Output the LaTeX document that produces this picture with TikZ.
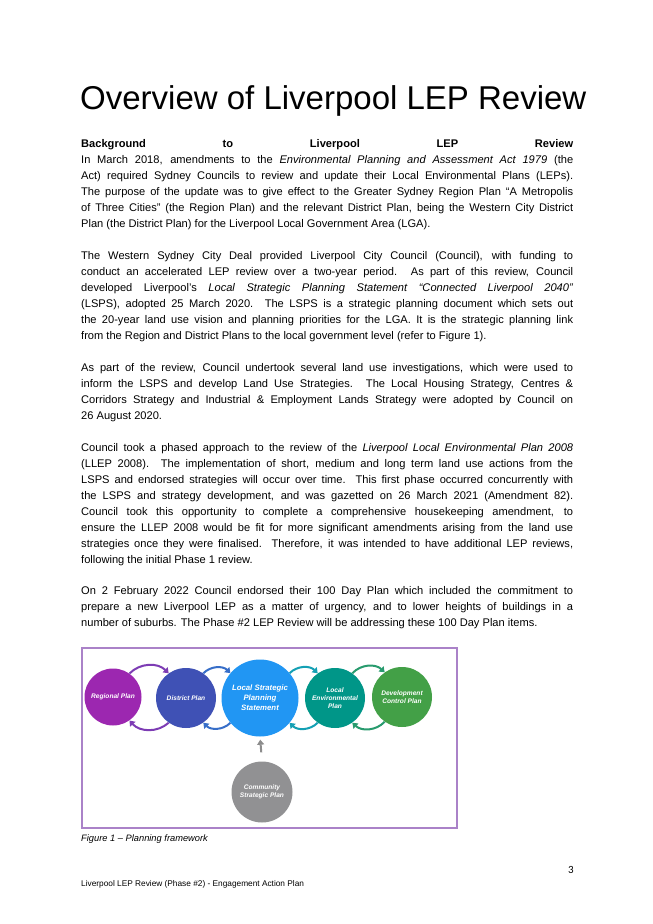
\documentclass[tikz,border=0pt]{standalone}
\usepackage{fontspec}
\setmainfont{Liberation Sans}
\newfontfamily\pgnum{Carlito}
\usetikzlibrary{arrows.meta}
\tikzset{
 para/.style={anchor=base west,inner sep=0pt,text width=492pt,align=justify,font=\fontsize{11.1}{16}\selectfont},
 plan/.style={circle,minimum size=#1,inner sep=0pt,text=white,align=center,font=\fontsize{6.6}{8}\selectfont\bfseries\itshape},
 flow/.style={line width=2pt,-{Triangle[length=5pt,width=7pt]}},
}
\begin{document}
\begin{tikzpicture}[x=1pt,y=-1pt]
\useasboundingbox (0,0) rectangle (653,924);
\fill[white] (0,0) rectangle (653,924);
\node[anchor=base west,inner sep=0pt,font=\fontsize{33}{36}\selectfont] (title) at (80,109) {Overview of Liverpool LEP Review};
\node[para] (p1) at (81,147) {\textbf{Background to Liverpool LEP Review}\linebreak
In March 2018, amendments to the \textit{Environmental Planning and Assessment Act 1979} (the\linebreak
Act) required Sydney Councils to review and update their Local Environmental Plans (LEPs).\linebreak
The purpose of the update was to give effect to the Greater Sydney Region Plan “A Metropolis\linebreak
of Three Cities” (the Region Plan) and the relevant District Plan, being the Western City District\linebreak
Plan (the District Plan) for the Liverpool Local Government Area (LGA).};
\node[para] (p2) at (81,259) {The Western Sydney City Deal provided Liverpool City Council (Council), with funding to\linebreak
conduct an accelerated LEP review over a two-year period. As part of this review, Council\linebreak
developed Liverpool’s \textit{Local Strategic Planning Statement “Connected Liverpool 2040”}\linebreak
(LSPS), adopted 25 March 2020. The LSPS is a strategic planning document which sets out\linebreak
the 20-year land use vision and planning priorities for the LGA. It is the strategic planning link\linebreak
from the Region and District Plans to the local government level (refer to Figure 1).};
\node[para] (p3) at (81,371) {As part of the review, Council undertook several land use investigations, which were used to\linebreak
inform the LSPS and develop Land Use Strategies. The Local Housing Strategy, Centres \&\linebreak
Corridors Strategy and Industrial \& Employment Lands Strategy were adopted by Council on\linebreak
26 August 2020.};
\node[para] (p4) at (81,451) {Council took a phased approach to the review of the \textit{Liverpool Local Environmental Plan 2008}\linebreak
(LLEP 2008). The implementation of short, medium and long term land use actions from the\linebreak
LSPS and endorsed strategies will occur over time. This first phase occurred concurrently with\linebreak
the LSPS and strategy development, and was gazetted on 26 March 2021 (Amendment 82).\linebreak
Council took this opportunity to complete a comprehensive housekeeping amendment, to\linebreak
ensure the LLEP 2008 would be fit for more significant amendments arising from the land use\linebreak
strategies once they were finalised. Therefore, it was intended to have additional LEP reviews,\linebreak
following the initial Phase 1 review.};
\node[para] (p5) at (81,594) {On 2 February 2022 Council endorsed their 100 Day Plan which included the commitment to\linebreak
prepare a new Liverpool LEP as a matter of urgency, and to lower heights of buildings in a\linebreak
number of suburbs. The Phase \#2 LEP Review will be addressing these 100 Day Plan items.};
% figure
\draw[draw={rgb,255:red,170;green,130;blue,200},line width=1.2pt] (82,648) rectangle (457,828);
\node[plan=57pt,fill={rgb,255:red,156;green,39;blue,176}] (reg) at (113,697) {Regional Plan};
\node[plan=60pt,fill={rgb,255:red,63;green,81;blue,181}] (dis) at (186,698) {District Plan};
\node[plan=77pt,fill={rgb,255:red,33;green,150;blue,243},font=\fontsize{7.8}{10}\selectfont\bfseries\itshape] (lsps) at (260,698) {Local Strategic\\Planning\\Statement};
\node[plan=60pt,fill={rgb,255:red,0;green,150;blue,136}] (lep) at (335,698) {Local\\Environmental\\Plan};
\node[plan=60pt,fill={rgb,255:red,67;green,160;blue,71}] (dcp) at (402,697) {Development\\Control Plan};
\node[plan=61pt,fill={rgb,255:red,145;green,145;blue,147}] (csp) at (262,792) {Community\\Strategic Plan};
\draw[flow,draw={rgb,255:red,125;green,60;blue,180}] (reg.55) to[bend left=45] (dis.125);
\draw[flow,draw={rgb,255:red,125;green,60;blue,180}] (dis.-125) to[bend left=45] (reg.-55);
\draw[flow,draw={rgb,255:red,55;green,110;blue,200}] (dis.55) to[bend left=45] (lsps.140);
\draw[flow,draw={rgb,255:red,55;green,110;blue,200}] (lsps.-140) to[bend left=45] (dis.-55);
\draw[flow,draw={rgb,255:red,20;green,160;blue,180}] (lsps.40) to[bend left=45] (lep.125);
\draw[flow,draw={rgb,255:red,20;green,160;blue,180}] (lep.-125) to[bend left=45] (lsps.-40);
\draw[flow,draw={rgb,255:red,40;green,155;blue,110}] (lep.55) to[bend left=45] (dcp.125);
\draw[flow,draw={rgb,255:red,40;green,155;blue,110}] (dcp.-125) to[bend left=45] (lep.-55);
\draw[flow,draw={rgb,255:red,140;green,140;blue,140},shorten <=9pt,shorten >=3pt] (csp.north) -- (lsps.south);
\node[anchor=base west,inner sep=0pt,font=\fontsize{9.3}{11}\selectfont\itshape] (cap) at (81,841) {Figure 1 – Planning framework};
\node[anchor=base east,inner sep=0pt,font=\pgnum\fontsize{11}{13}\selectfont] (pg) at (574,873) {3};
\node[anchor=base west,inner sep=0pt,font=\fontsize{8.3}{10}\selectfont] (foot) at (81,886) {Liverpool LEP Review (Phase \#2) - Engagement Action Plan};
\end{tikzpicture}
\end{document}
